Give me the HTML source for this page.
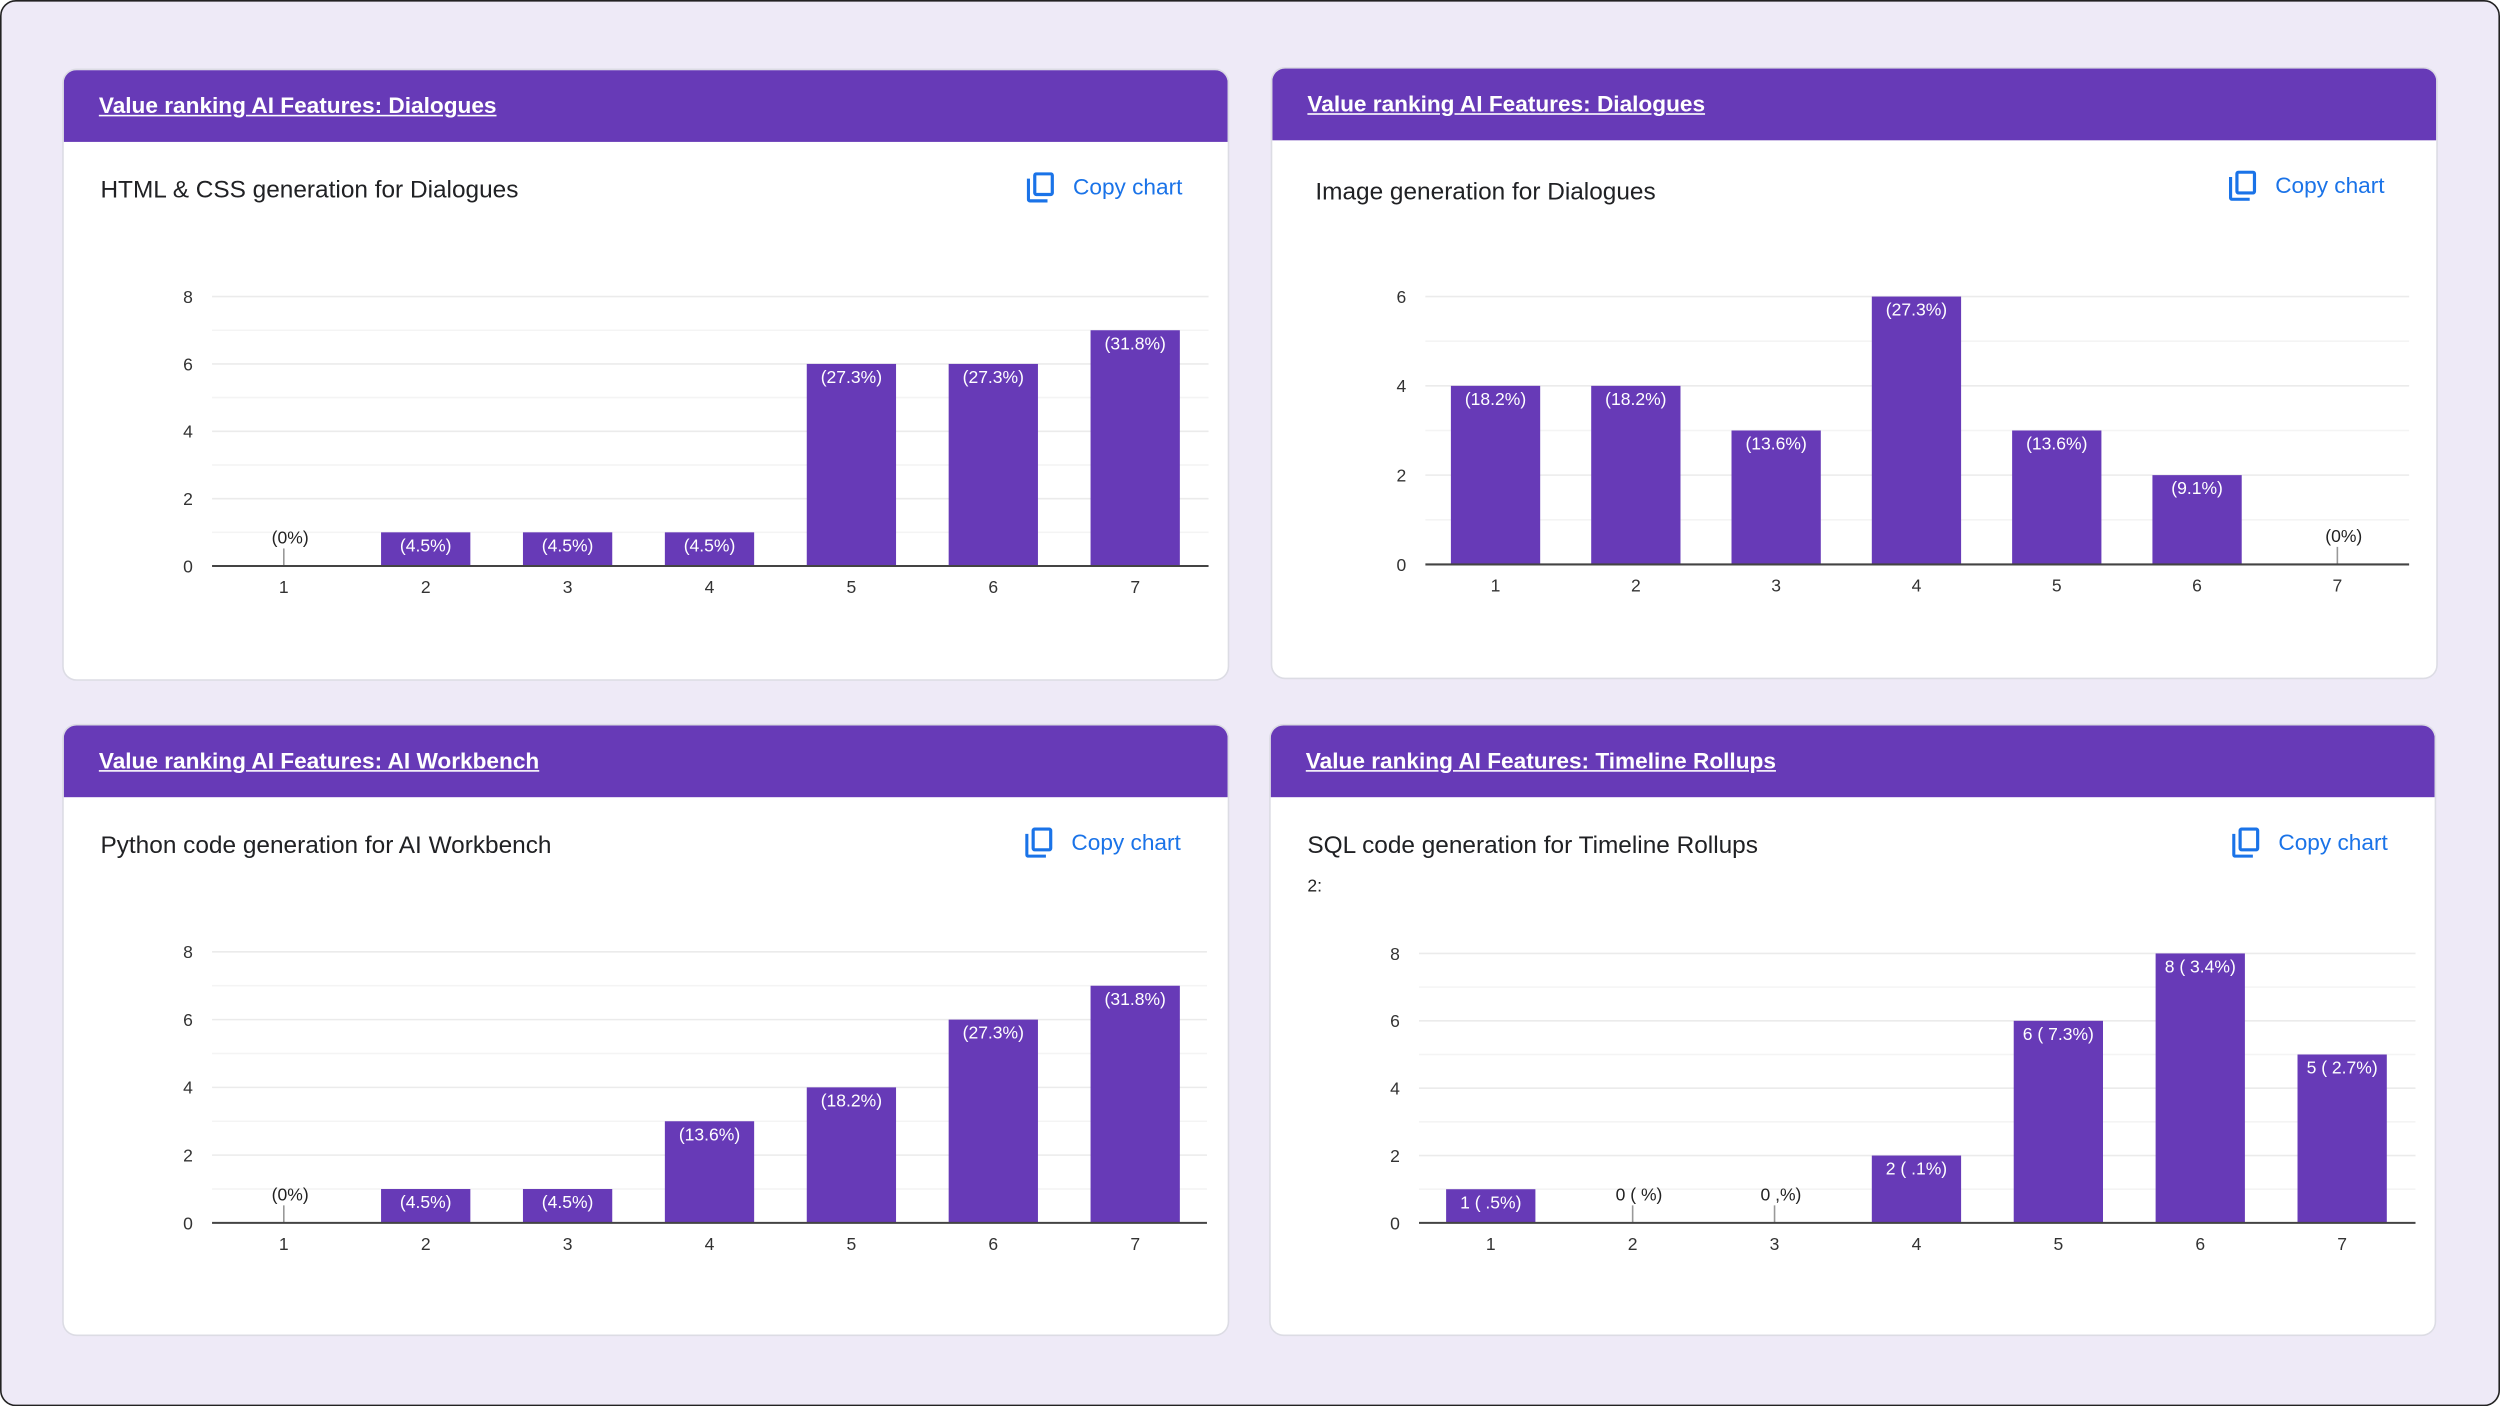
<!DOCTYPE html>
<html><head><meta charset="utf-8">
<style>
html,body{margin:0;padding:0;width:2500px;height:1406px;overflow:hidden;background:#fff;}
#wrap{position:absolute;left:0;top:0;width:1568px;height:882px;transform:scale(1.59439);transform-origin:0 0;}
#frame{position:absolute;left:0;top:0;width:1566px;height:880px;border:1px solid #222;border-radius:10px;background:#eeeaf7;}
.card{position:absolute;width:730px;height:382px;background:#fff;border-radius:8px;box-shadow:0 0 0 1px #dcdce4;overflow:hidden;font-family:"Liberation Sans",sans-serif;}
.hdr{position:absolute;left:0;top:0;width:100%;height:45px;background:#673ab7;}
.hdr a{position:absolute;left:22px;top:15px;color:#fff;font-weight:bold;font-size:14.2px;text-decoration:underline;}
.sub{position:absolute;left:23px;top:67px;font-size:15.3px;color:#202124;}
.copy{position:absolute;top:64px;color:#1a73e8;font-size:14.2px;display:flex;align-items:center;gap:11px;}
svg.ch{position:absolute;left:0;top:0;}
</style></head><body>
<div id="wrap">
<div id="frame"></div>
</div>
<script>
const categories=["1","2","3","4","5","6","7"];
const valuesHtml=[0,1,1,1,6,6,7];
const labelsHtml=["(0%)","(4.5%)","(4.5%)","(4.5%)","(27.3%)","(27.3%)","(31.8%)"];
const valuesImage=[4,4,3,6,3,2,0];
const labelsImage=["(18.2%)","(18.2%)","(13.6%)","(27.3%)","(13.6%)","(9.1%)","(0%)"];
const valuesPython=[0,1,1,3,4,6,7];
const labelsPython=["(0%)","(4.5%)","(4.5%)","(13.6%)","(18.2%)","(27.3%)","(31.8%)"];
const valuesSql=[1,0,0,2,6,8,5];
const labelsSql=["1 ( .5%)","0 ( %)","0 ,%)","2 ( .1%)","6 ( 7.3%)","8 ( 3.4%)","5 ( 2.7%)"];
const ticks8=[0,2,4,6,8];
const ticks6=[0,2,4,6];

const specs=[
 {name:"html-css",L:40,T:44,title:"Value ranking AI Features: Dialogues",sub:"HTML & CSS generation for Dialogues",copyX:604,px0:93,px1:718,y0:311,yT:142,max:8,ticks:ticks8,c0:138,cs:89,vals:valuesHtml,labs:labelsHtml},
 {name:"image",L:798,T:43,title:"Value ranking AI Features: Dialogues",sub:"Image generation for Dialogues",copyX:600,px0:96,px1:713,y0:311,yT:143,max:6,ticks:ticks6,c0:140,cs:88,vals:valuesImage,labs:labelsImage,subX:27,subY:69},
 {name:"python",L:40,T:455,title:"Value ranking AI Features: AI Workbench",sub:"Python code generation for AI Workbench",copyX:603,px0:93,px1:717,y0:312,yT:142,max:8,ticks:ticks8,c0:138,cs:89,vals:valuesPython,labs:labelsPython},
 {name:"sql",L:797,T:455,title:"Value ranking AI Features: Timeline Rollups",sub:"SQL code generation for Timeline Rollups",copyX:603,px0:93,px1:718,y0:312,yT:143,max:8,ticks:ticks8,c0:138,cs:89,vals:valuesSql,labs:labelsSql,extra:true}
];
const NS="http://www.w3.org/2000/svg";
const wrap=document.getElementById('wrap');
function mk(tag,attrs,parent){const e=document.createElementNS(NS,tag);for(const k in attrs)e.setAttribute(k,attrs[k]);parent.appendChild(e);return e;}
specs.forEach(s=>{
 const card=document.createElement('div');card.className='card';
 card.style.left=s.L+'px';card.style.top=s.T+'px';
 
 
 card.innerHTML=`<div class="hdr"><a>${s.title}</a></div>
 <div class="sub" style="${s.subX?'left:'+s.subX+'px;top:'+(s.subY)+'px':''}">${s.sub.replace('&','&amp;')}</div>
 <div class="copy" style="left:${s.copyX}px"><svg width="18" height="19" viewBox="0 0 18 19"><path d="M1 4v13a1 1 0 0 0 1 1h11" stroke="#1a73e8" stroke-width="2" fill="none"/><rect x="5" y="1" width="11" height="13" rx="1" stroke="#1a73e8" stroke-width="2" fill="none"/></svg><span>Copy chart</span></div>`+(s.extra?'<div style="position:absolute;left:23px;top:95px;font-size:11px;color:#222">2:</div>':'');
 wrap.appendChild(card);
 const svg=mk('svg',{class:'ch',width:730,height:382},card);
 
 
 const yS=v=>s.y0-(v/s.max)*(s.y0-s.yT);
 const xS=i=>s.c0+i*s.cs;
 for(let v=1;v<=s.max;v+=1){
  const ln=mk('line',{x1:s.px0,x2:s.px1,y1:yS(v),y2:yS(v),stroke:v%2?'#f4f4f4':'#ebebeb','stroke-width':1},svg);
  
  
 }
 s.ticks.forEach(t=>{
  const tx=mk('text',{x:s.px0-12,y:yS(t)+4,'text-anchor':'end','font-size':11,fill:'#333','font-family':'Liberation Sans, sans-serif'},svg);
  tx.textContent=t;
  
  
 });
 s.vals.forEach((v,i)=>{
  const cx=xS(i);
  if(v>0){
   const r=mk('rect',{x:cx-28,y:yS(v),width:56,height:s.y0-yS(v),fill:'#673ab7'},svg);
   
   
   const t=mk('text',{x:cx,y:yS(v)+12,'text-anchor':'middle','font-size':11,fill:'#fff','font-family':'Liberation Sans, sans-serif'},svg);
   t.textContent=s.labs[i];
   
   
  } else {
   const l=mk('line',{x1:cx,x2:cx,y1:s.y0,y2:s.y0-11,stroke:'#999','stroke-width':1},svg);
   
   
   const t=mk('text',{x:cx+4,y:s.y0-14,'text-anchor':'middle','font-size':11,fill:'#222','font-family':'Liberation Sans, sans-serif'},svg);
   t.textContent=s.labs[i];
   
   
  }
  const xl=mk('text',{x:cx,y:s.y0+17,'text-anchor':'middle','font-size':11,fill:'#333','font-family':'Liberation Sans, sans-serif'},svg);
  xl.textContent=categories[i];
  
  
 });
 const ax=mk('line',{x1:s.px0,x2:s.px1,y1:s.y0,y2:s.y0,stroke:'#444','stroke-width':1.3},svg);
 
 
});
</script>
</body></html>
